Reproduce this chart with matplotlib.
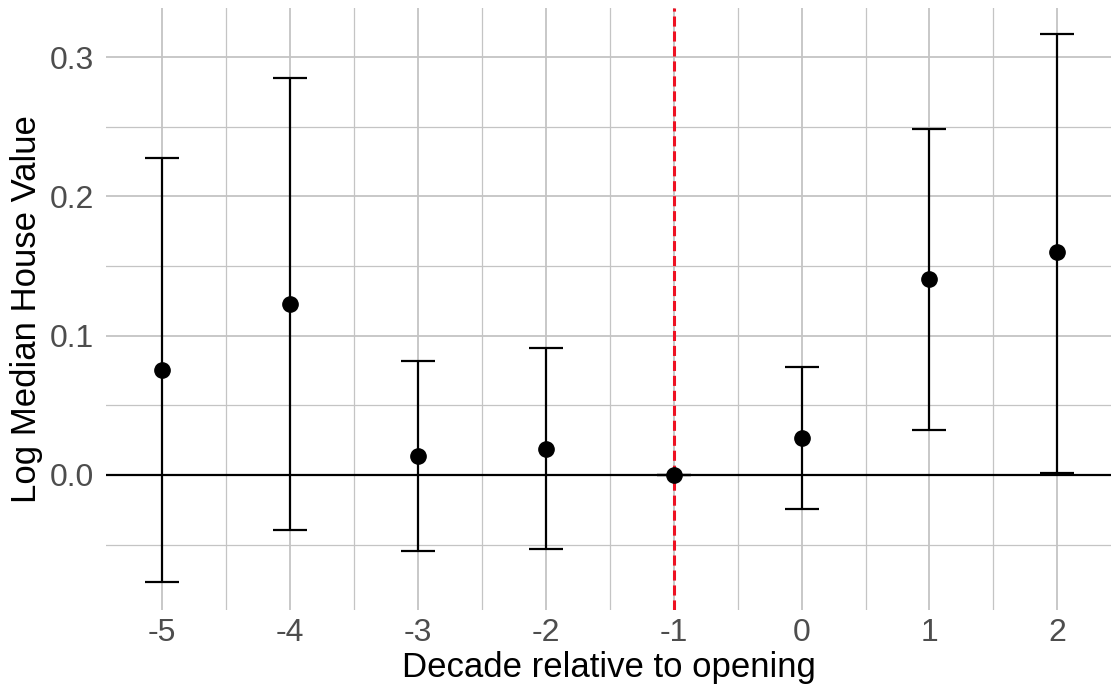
import matplotlib
matplotlib.use("Agg")
import matplotlib.pyplot as plt
from matplotlib.ticker import MultipleLocator

plt.rcParams["font.family"] = ["Liberation Sans", "DejaVu Sans"]
plt.rcParams["axes.unicode_minus"] = False

decades = [-5, -4, -3, -2, -1, 0, 1, 2]
estimate = [0.0754, 0.1228, 0.0136, 0.0190, 0.0, 0.0263, 0.1406, 0.1600]
ci_low = [-0.0768, -0.0395, -0.0543, -0.0533, 0.0, -0.0246, 0.0325, 0.0017]
ci_high = [0.2276, 0.2850, 0.0817, 0.0908, 0.0, 0.0777, 0.2480, 0.3166]

fig = plt.figure(figsize=(11.11, 6.92), dpi=100)
ax = fig.add_axes([106 / 1111, 82 / 692, 1005 / 1111, 602 / 692])

for s in ax.spines.values():
    s.set_visible(False)

ax.set_xlim(-5.44, 2.42)
ax.set_ylim(-0.0969, 0.3352)
ax.xaxis.set_major_locator(MultipleLocator(1))
ax.xaxis.set_minor_locator(MultipleLocator(0.5))
ax.yaxis.set_major_locator(MultipleLocator(0.1))
ax.yaxis.set_minor_locator(MultipleLocator(0.05))
ax.yaxis.set_major_formatter(lambda v, p: f"{v:.1f}")

# theme_minimal-like grid
ax.grid(True, which="major", color="#c4c4c4", linewidth=1.3)
ax.grid(True, which="minor", color="#c4c4c4", linewidth=0.9)
ax.set_axisbelow(True)
ax.tick_params(which="both", length=0, labelsize=23, colors="#4d4d4d")
ax.tick_params(axis="y", pad=8.5)
ax.tick_params(axis="x", pad=6)

ax.axhline(0, color="black", linewidth=1.6, zorder=2)
ax.axvline(-1, color="#ee1122", linewidth=2.2, linestyle=(0, (3.3, 1.6)), zorder=2)

yerr = [[e - lo for e, lo in zip(estimate, ci_low)],
        [hi - e for e, hi in zip(estimate, ci_high)]]
ax.errorbar(decades, estimate, yerr=yerr, fmt="none", ecolor="black",
            elinewidth=1.6, capsize=12.5, capthick=1.6, zorder=3)
ax.plot(decades, estimate, "o", color="black", markersize=11, zorder=4)

ax.set_xlabel("Decade relative to opening", fontsize=25, labelpad=2)
ax.set_ylabel("Log Median House Value", fontsize=25, labelpad=5)

fig.savefig("out.png", dpi=100)
